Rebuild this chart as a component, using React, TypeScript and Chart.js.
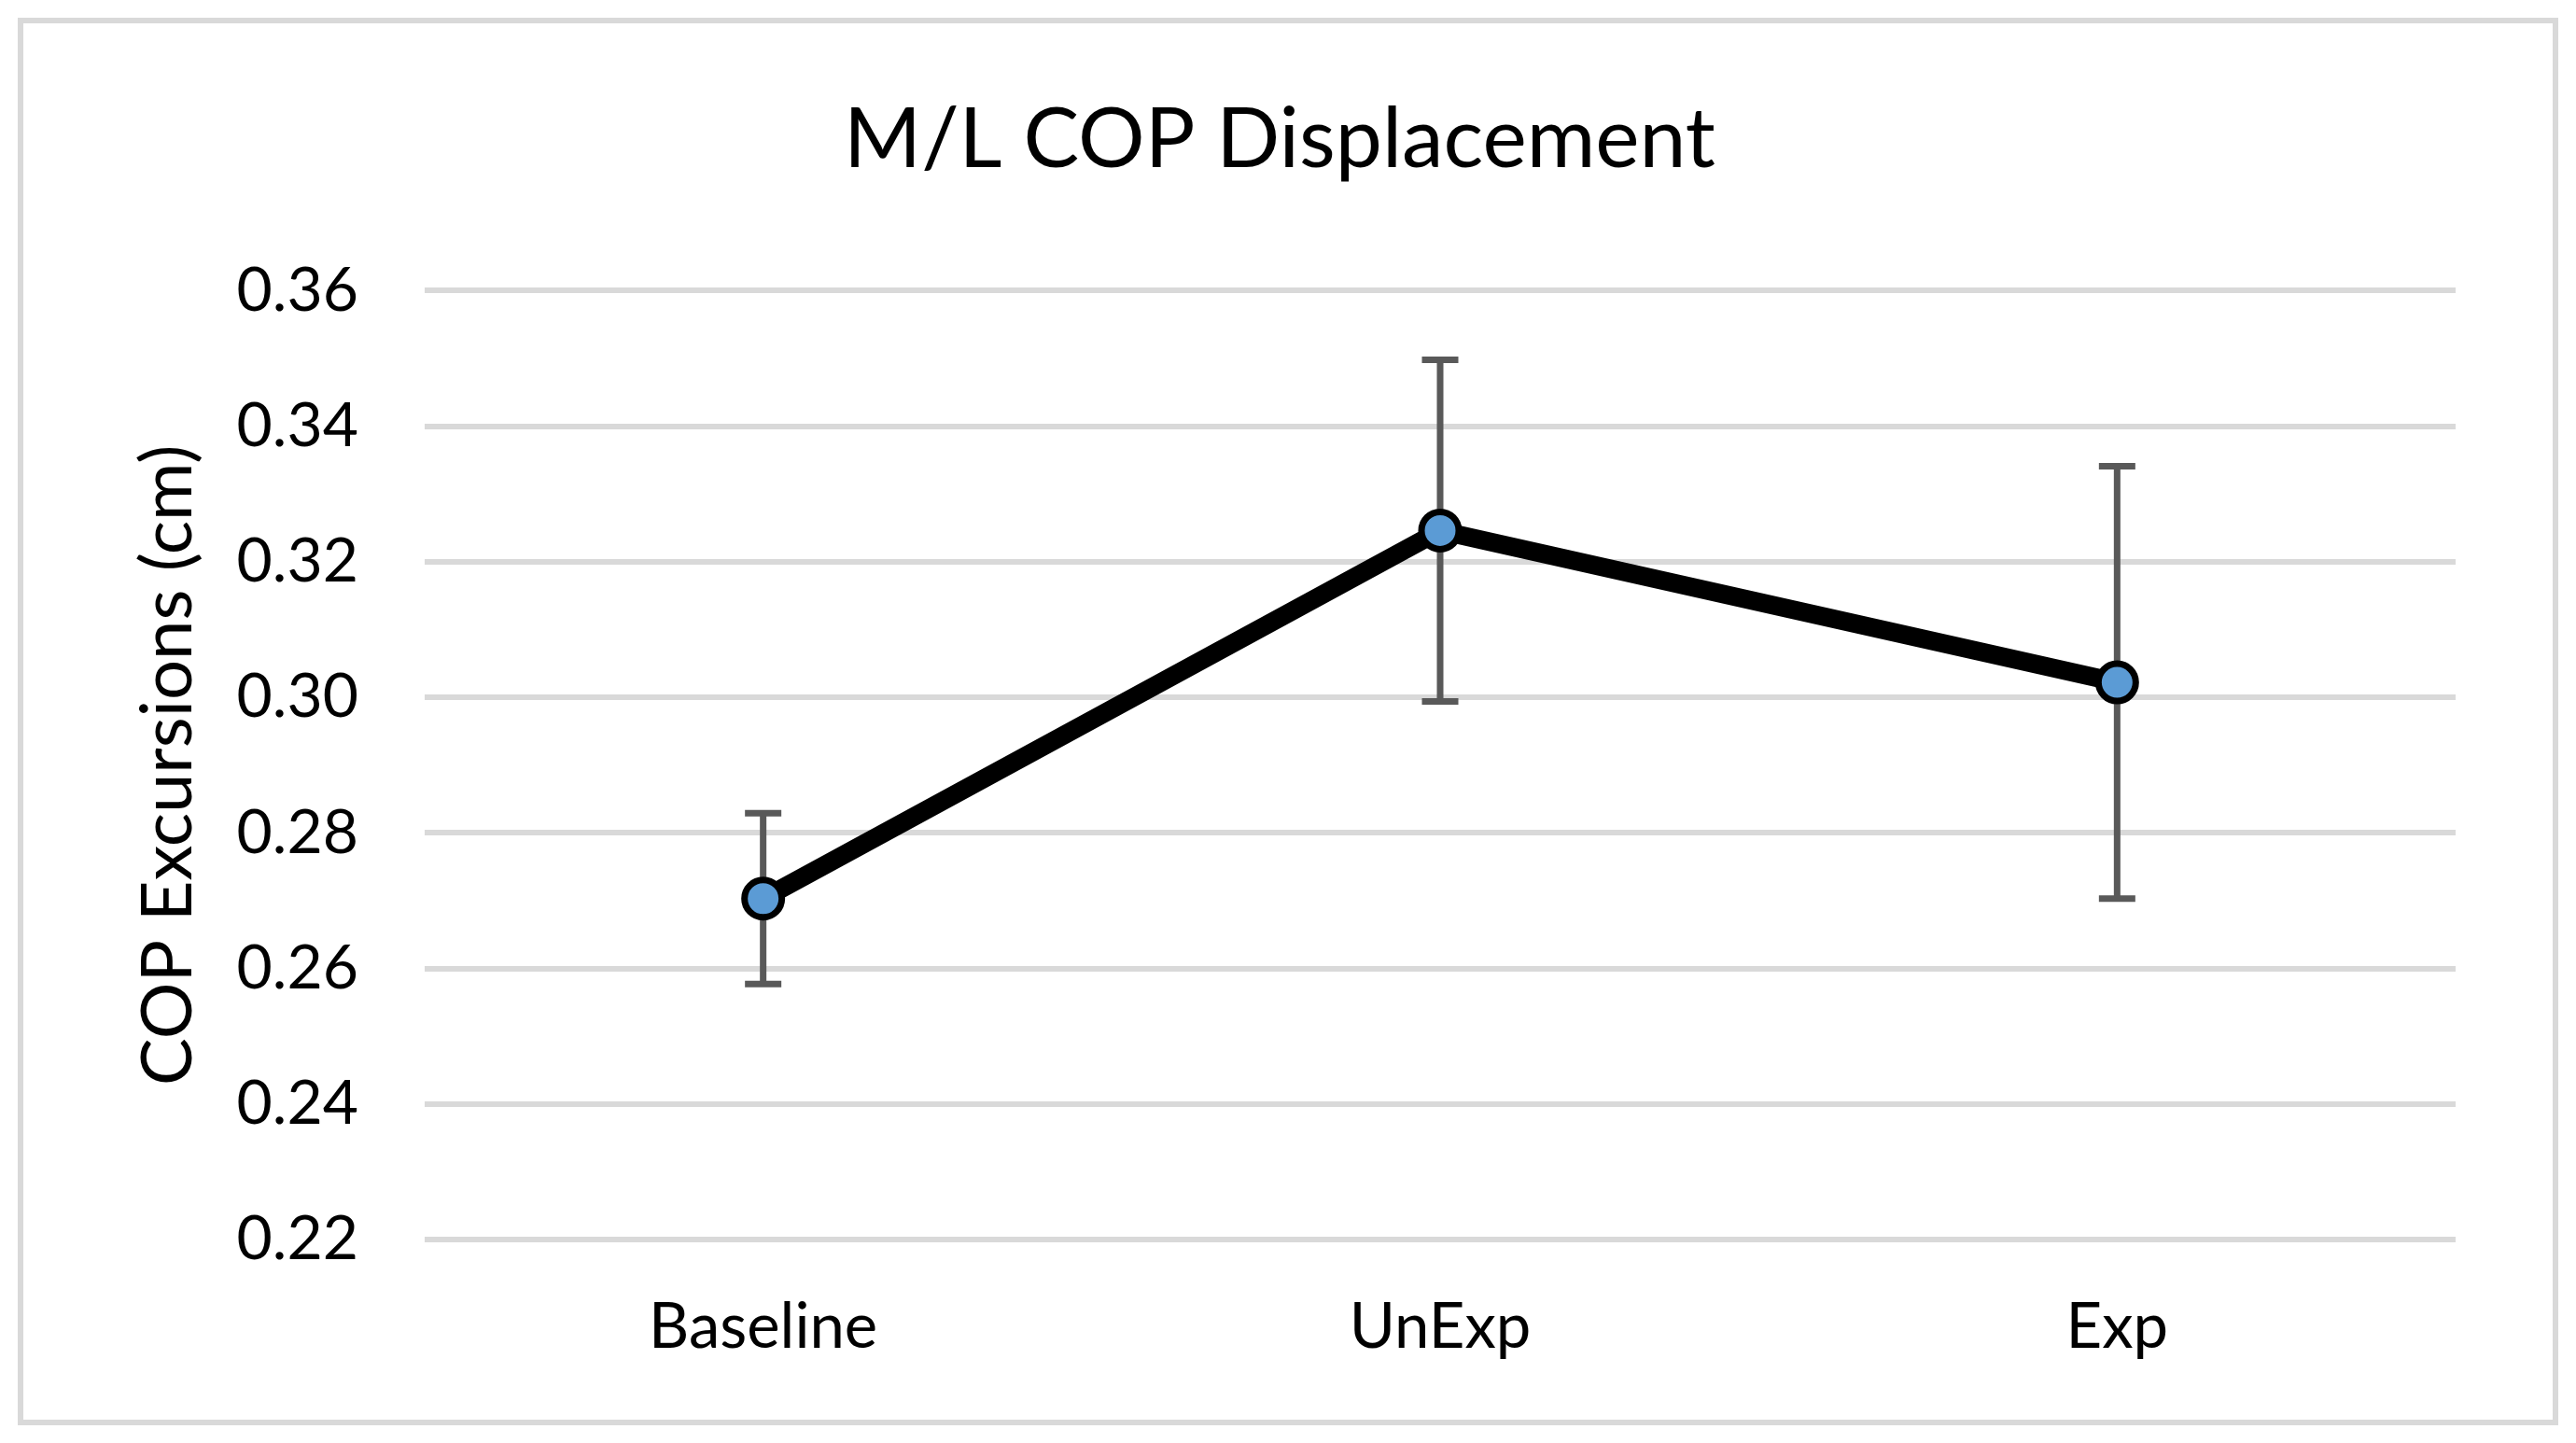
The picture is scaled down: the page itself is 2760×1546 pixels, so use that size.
import React, { useEffect, useRef } from "react";
import { Chart, registerables } from "chart.js";

Chart.register(...registerables);

const categories = ["Baseline", "UnExp", "Exp"];
const meanValues = [0.2703, 0.3246, 0.3022];
const errorValues = [0.0126, 0.0252, 0.0319];
const yMin = 0.22;
const yMax = 0.36;
const yStep = 0.02;
const chartTitle = "M/L COP Displacement";
const yAxisTitle = "COP Excursions (cm)";

const FONT = "Lato";

const errorBarPlugin = {
  id: "errorBars",
  beforeDatasetsDraw(chart: any) {
    const { ctx, scales } = chart;
    const x = scales.x;
    const y = scales.y;
    ctx.save();
    ctx.strokeStyle = "#595959";
    ctx.lineWidth = 7;
    ctx.lineCap = "butt";
    meanValues.forEach((v, i) => {
      const px = x.getPixelForValue(i);
      const top = y.getPixelForValue(v + errorValues[i]);
      const bot = y.getPixelForValue(v - errorValues[i]);
      ctx.beginPath();
      ctx.moveTo(px, top);
      ctx.lineTo(px, bot);
      ctx.moveTo(px - 19.5, top);
      ctx.lineTo(px + 19.5, top);
      ctx.moveTo(px - 19.5, bot);
      ctx.lineTo(px + 19.5, bot);
      ctx.stroke();
    });
    ctx.restore();
  },
};

const borderPlugin = {
  id: "outerBorder",
  beforeDraw(chart: any) {
    const { ctx } = chart;
    ctx.save();
    ctx.fillStyle = "#ffffff";
    ctx.fillRect(0, 0, chart.width, chart.height);
    ctx.strokeStyle = "#d9d9d9";
    ctx.lineWidth = 6;
    ctx.strokeRect(22, 22, 2716, 1502);
    ctx.restore();
  },
};

export default function App() {
  const canvasRef = useRef<HTMLCanvasElement | null>(null);

  useEffect(() => {
    if (!canvasRef.current) return;
    const chart = new Chart(canvasRef.current, {
      type: "line",
      data: {
        labels: categories,
        datasets: [
          {
            data: meanValues,
            borderColor: "#000000",
            borderWidth: 20,
            pointRadius: 20,
            pointHoverRadius: 20,
            pointBackgroundColor: "#5B9BD5",
            pointBorderColor: "#000000",
            pointBorderWidth: 7,
            tension: 0,
            fill: false,
          },
        ],
      },
      options: {
        animation: false,
        responsive: false,
        devicePixelRatio: 1,
        events: [],
        layout: { padding: { left: 0, right: 18, top: 0, bottom: 0 } },
        plugins: {
          legend: { display: false },
          tooltip: { enabled: false },
          title: {
            display: true,
            text: chartTitle,
            color: "#000000",
            font: { family: FONT, size: 89.5, weight: "normal", lineHeight: 1.2 },
            padding: { top: 96, bottom: 108 },
          },
        },
        scales: {
          x: {
            type: "category",
            offset: true,
            grid: { display: false, drawTicks: false },
            border: { display: false },
            ticks: {
              color: "#000000",
              font: { family: FONT, size: 67, lineHeight: 1.2 },
              padding: 54,
              maxRotation: 0,
            },
            afterFit(scale: any) {
              scale.height = 218;
            },
          },
          y: {
            min: yMin,
            max: yMax,
            grid: { color: "#d9d9d9", lineWidth: 6, drawTicks: false },
            border: { display: false },
            ticks: {
              stepSize: yStep,
              color: "#000000",
              font: { family: FONT, size: 66, lineHeight: 1.2 },
              padding: 71,
              callback: (v: any) => Number(v).toFixed(2),
            },
            title: {
              display: true,
              text: yAxisTitle,
              color: "#000000",
              font: { family: FONT, size: 76, lineHeight: 1.2 },
              padding: { top: 135, bottom: 0 },
            },
            afterFit(scale: any) {
              scale.width = 455;
            },
          },
          yRight: {
            position: "right",
            display: true,
            min: yMin,
            max: yMax,
            grid: { display: false, drawTicks: false },
            border: { display: false },
            ticks: { display: false },
            afterFit(scale: any) {
              scale.width = 111;
            },
          },
        },
      },
      plugins: [borderPlugin, errorBarPlugin],
    });
    return () => chart.destroy();
  }, []);

  return (
    <div style={{ position: "absolute", left: 0, top: 0, width: 2760, height: 1546 }}>
      <canvas ref={canvasRef} width={2760} height={1546} style={{ width: 2760, height: 1546, display: "block" }} />
    </div>
  );
}
